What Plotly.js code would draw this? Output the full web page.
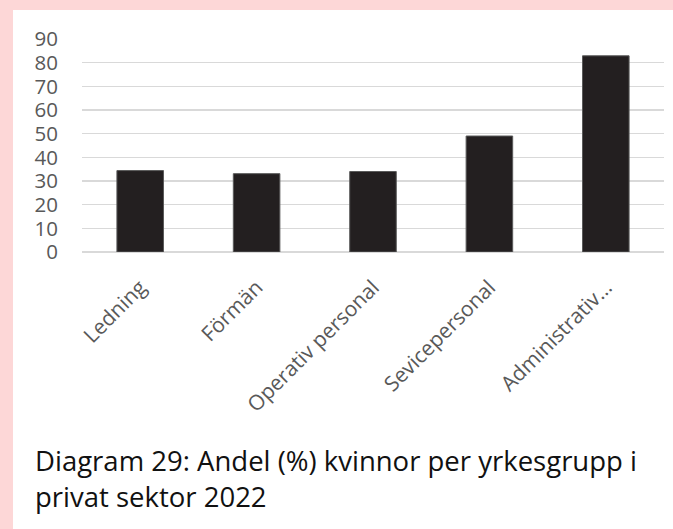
<!DOCTYPE html>
<html>
<head>
<meta charset="utf-8">
<script src="https://cdn.plot.ly/plotly-3.0.1.min.js"></script>
<style>
html,body{margin:0;padding:0;background:#fdd7d7;width:673px;height:529px;overflow:hidden;}
#chart{position:absolute;left:13px;top:10px;width:660px;height:519px;background:#fff;}
</style>
</head>
<body>
<div id="chart"></div>
<script>
const categories = ["Ledning", "Förmän", "Operativ personal", "Sevicepersonal", "Administrativ…"];
const values = [34.4, 33.1, 34.0, 49.0, 82.9];
const tickVals = [0, 10, 20, 30, 40, 50, 60, 70, 80, 90];
const captionText = "Diagram 29: Andel (%) kvinnor per yrkesgrupp i<br>privat sektor 2022";

const trace = {
  type: "bar",
  x: categories,
  y: values,
  marker: {color: "#231f20", line: {color: "#5a5a5a", width: 1}},
  hoverinfo: "none"
};

const layout = {
  width: 660,
  height: 519,
  margin: {l: 69, r: 9, t: 29, b: 277},
  paper_bgcolor: "#ffffff",
  plot_bgcolor: "#ffffff",
  bargap: 0.6,
  showlegend: false,
  font: {family: "Open Sans, sans-serif", color: "#595959"},
  xaxis: {
    type: "category",
    tickangle: -45,
    tickfont: {size: 21, color: "#595959"},
    showgrid: false,
    showline: false,
    ticks: "",
    ticklabelstandoff: 18
  },
  yaxis: {
    range: [0, 90],
    tickvals: tickVals,
    ticktext: tickVals.map(String),
    tickfont: {size: 20.5, color: "#595959"},
    gridcolor: "#d9d9d9",
    gridwidth: 1.5,
    zeroline: true,
    zerolinecolor: "#d9d9d9",
    zerolinewidth: 1.5,
    showline: false,
    ticks: "",
    ticklabelstandoff: 23
  },
  title: {
    text: captionText,
    x: 22/660,
    xanchor: "left",
    xref: "container",
    yref: "container",
    y: 1 - 461/519,
    yanchor: "top",
    font: {family: "Open Sans, sans-serif", size: 27.5, color: "#111111"}
  }
};

Plotly.newPlot("chart", [trace], layout, {displayModeBar: false, staticPlot: true});
</script>
</body>
</html>
